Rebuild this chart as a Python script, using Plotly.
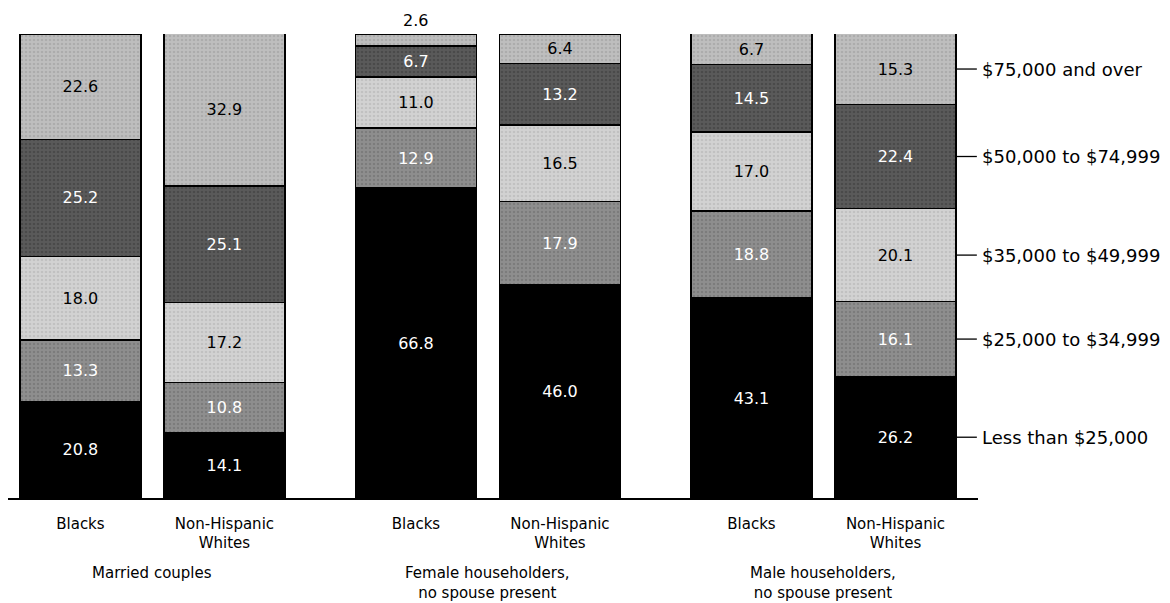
import plotly.graph_objects as go
import numpy as np

bar_labels = ["Blacks", "Non-Hispanic<br>Whites"] * 3
group_labels = ["Married couples", "Female householders,<br>no spouse present",
                "Male householders,<br>no spouse present"]
income_cats = ["Less than $25,000", "$25,000 to $34,999", "$35,000 to $49,999",
               "$50,000 to $74,999", "$75,000 and over"]

less_25k = [20.8, 14.1, 66.8, 46.0, 43.1, 26.2]
k25_35 = [13.3, 10.8, 12.9, 17.9, 18.8, 16.1]
k35_50 = [18.0, 17.2, 11.0, 16.5, 17.0, 20.1]
k50_75 = [25.2, 25.1, 6.7, 13.2, 14.5, 22.4]
k75_up = [22.6, 32.9, 2.6, 6.4, 6.7, 15.3]
series = [less_25k, k25_35, k35_50, k50_75, k75_up]

fills = ["#000000", "#8e8e8e", "#d2d2d2", "#5a5a5a", "#bebebe"]
dots = ["#222222", "#6a6a6a", "#b0b0b0", "#3a3a3a", "#9a9a9a"]
txtcol = ["white", "white", "black", "white", "black"]

FONT = "DejaVu Sans"

# positions: bars in groups of two
group_step = 2.33
xpos = []
for g in range(3):
    for j in range(2):
        xpos.append(g * group_step + j)
width = 0.84

fig = go.Figure()
for i, vals in enumerate(series):
    last = i == len(series) - 1
    texts = [("" if (last and v < 4) else f"{v:.1f}") for v in vals]
    fig.add_trace(go.Bar(
        x=xpos, y=vals, width=width,
        text=texts,
        textposition="inside",
        insidetextanchor="middle",
        textangle=0,
        textfont=dict(size=16, color=txtcol[i], family=FONT),
        marker=dict(color=fills[i], line=dict(color="black", width=1.5),
                    pattern=dict(shape=".", fgcolor=dots[i], size=4, solidity=0.3)
                    if i > 0 else None),
        name=income_cats[i], showlegend=False, hoverinfo="skip",
    ))

# small top values written above the bar
tops = np.sum(series, axis=0)
for xi, v, t in zip(xpos, k75_up, tops):
    if v < 4:
        fig.add_annotation(x=xi, y=t, xref="x", yref="y", text=f"{v:.1f}",
                           showarrow=False, yanchor="bottom", yshift=2,
                           font=dict(size=16, color="black", family=FONT))

# right-side labels pointing at the midpoints of the last bar's segments
last_vals = [s[-1] for s in series]
cum = np.cumsum([0] + last_vals)
mids = [(cum[k] + cum[k + 1]) / 2 for k in range(len(last_vals))]
x_right = xpos[-1] + width / 2
x_end = x_right + 0.145
for k, m in enumerate(mids):
    fig.add_shape(type="line", xref="x", yref="y", x0=x_right, x1=x_end,
                  y0=m, y1=m, line=dict(color="black", width=1.3))
    fig.add_annotation(x=x_end, y=m, xref="x", yref="y", text=income_cats[k],
                       showarrow=False, xanchor="left", xshift=3,
                       font=dict(size=18, color="black", family=FONT))

# group labels
for g in range(3):
    fig.add_annotation(x=g * group_step + 0.5, y=-0.137, xref="x", yref="paper",
                       text=group_labels[g], showarrow=False, yanchor="top",
                       font=dict(size=15, color="black", family=FONT))

fig.update_layout(
    barmode="stack",
    width=1162, height=595,
    margin=dict(l=0, r=192, t=26, b=105),
    paper_bgcolor="white", plot_bgcolor="white",
    font=dict(family=FONT, size=15, color="black"),
    xaxis=dict(range=[-0.503, 6.233], tickvals=xpos, ticktext=bar_labels,
               showline=True, linecolor="black", linewidth=1.5, ticks="",
               showgrid=False, zeroline=False, ticklabelstandoff=11,
               tickfont=dict(size=15)),
    yaxis=dict(range=[0, 100], visible=False, showgrid=False),
)

fig.write_html("out.html")
